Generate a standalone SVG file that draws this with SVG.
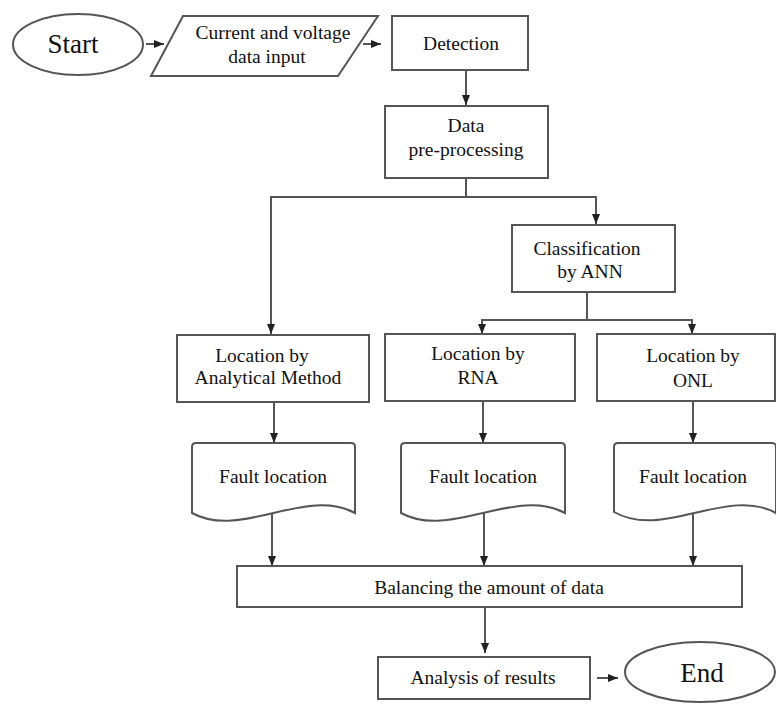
<svg xmlns="http://www.w3.org/2000/svg" width="776" height="705" viewBox="0 0 776 705">
<style>
.s{fill:#fff;stroke:#555;stroke-width:2}
.t{font-family:"Liberation Serif","Times New Roman",serif;font-size:19.5px;fill:#111;text-anchor:middle}
.big{font-size:27px}
.c{fill:none;stroke:#555;stroke-width:2}
</style>
<defs>
<marker id="ah" markerUnits="userSpaceOnUse" markerWidth="10" markerHeight="10" viewBox="0 0 10 10" refX="10" refY="5" orient="auto">
<path d="M0,1 L10,5 L0,9 Z" fill="#222"/>
</marker>
</defs>
<rect width="776" height="705" fill="#fff"/>
<g id="connectors">
<path class="c" d="M146,44 L164,44" marker-end="url(#ah)"/>
<path class="c" d="M363,44 L381,44" marker-end="url(#ah)"/>
<path class="c" d="M466,70 L466,105" marker-end="url(#ah)"/>
<path class="c" d="M466,178 L466,197"/>
<path class="c" d="M271,197 L271,334" marker-end="url(#ah)"/>
<path class="c" d="M270,197 L596,197 L596,224" marker-end="url(#ah)"/>
<path class="c" d="M587,292 L587,320"/>
<path class="c" d="M482,320 L482,334" marker-end="url(#ah)"/>
<path class="c" d="M481,320 L692,320 L692,334" marker-end="url(#ah)"/>
<path class="c" d="M274,402 L274,443" marker-end="url(#ah)"/>
<path class="c" d="M483,401 L483,443" marker-end="url(#ah)"/>
<path class="c" d="M693,401 L693,443" marker-end="url(#ah)"/>
<path class="c" d="M272,512 L272,566" marker-end="url(#ah)"/>
<path class="c" d="M484,512 L484,566" marker-end="url(#ah)"/>
<path class="c" d="M693,512 L693,566" marker-end="url(#ah)"/>
<path class="c" d="M485,607 L485,653" marker-end="url(#ah)"/>
<path class="c" d="M597,678 L618,678" marker-end="url(#ah)"/>
</g>
<g id="start">
<ellipse class="s" cx="78" cy="44.5" rx="65" ry="30.5"/>
<text class="t big" x="73" y="53">Start</text>
</g>
<g id="input">
<polygon class="s" points="183,16 378,16 338,76 151,76"/>
<text class="t" x="273" y="39">Current and voltage</text>
<text class="t" x="267" y="63">data input</text>
</g>
<g id="detection">
<rect class="s" x="392" y="16" width="136" height="54"/>
<text class="t" x="461" y="50">Detection</text>
</g>
<g id="preprocessing">
<rect class="s" x="385" y="106" width="163" height="72"/>
<text class="t" x="466" y="132">Data</text>
<text class="t" x="466" y="156">pre-processing</text>
</g>
<g id="classification">
<rect class="s" x="512" y="225" width="163" height="67"/>
<text class="t" x="587" y="255">Classification</text>
<text class="t" x="590" y="278">by ANN</text>
</g>
<g id="loc-analytical">
<rect class="s" x="177" y="335" width="192" height="67"/>
<text class="t" x="262" y="362">Location by</text>
<text class="t" x="268" y="384">Analytical Method</text>
</g>
<g id="loc-rna">
<rect class="s" x="385" y="334" width="190" height="67"/>
<text class="t" x="478" y="360">Location by</text>
<text class="t" x="478" y="384">RNA</text>
</g>
<g id="loc-onl">
<rect class="s" x="597" y="334" width="178" height="67"/>
<text class="t" x="693" y="362">Location by</text>
<text class="t" x="693" y="387">ONL</text>
</g>
<g id="fault-1">
<path class="s" d="M192,447 Q192,443 196,443 L351,443 Q355,443 355,447 L355,513 C306,486 241,540 192,513 Z"/>
<text class="t" x="273" y="483">Fault location</text>
</g>
<g id="fault-2">
<path class="s" d="M401,447 Q401,443 405,443 L561,443 Q565,443 565,447 L565,513 C516,486 450,540 401,513 Z"/>
<text class="t" x="483" y="483">Fault location</text>
</g>
<g id="fault-3">
<path class="s" d="M614,447 Q614,443 618,443 L772,443 Q776,443 776,447 L776,513 C727,486 663,540 614,512 Z"/>
<text class="t" x="693" y="483">Fault location</text>
</g>
<g id="balancing">
<rect class="s" x="237" y="566" width="505" height="41"/>
<text class="t" x="489" y="594">Balancing the amount of data</text>
</g>
<g id="analysis">
<rect class="s" x="378" y="657" width="212" height="42"/>
<text class="t" x="483" y="684">Analysis of results</text>
</g>
<g id="end">
<ellipse class="s" cx="700" cy="672" rx="75" ry="30"/>
<text class="t big" x="702" y="682">End</text>
</g>
</svg>
